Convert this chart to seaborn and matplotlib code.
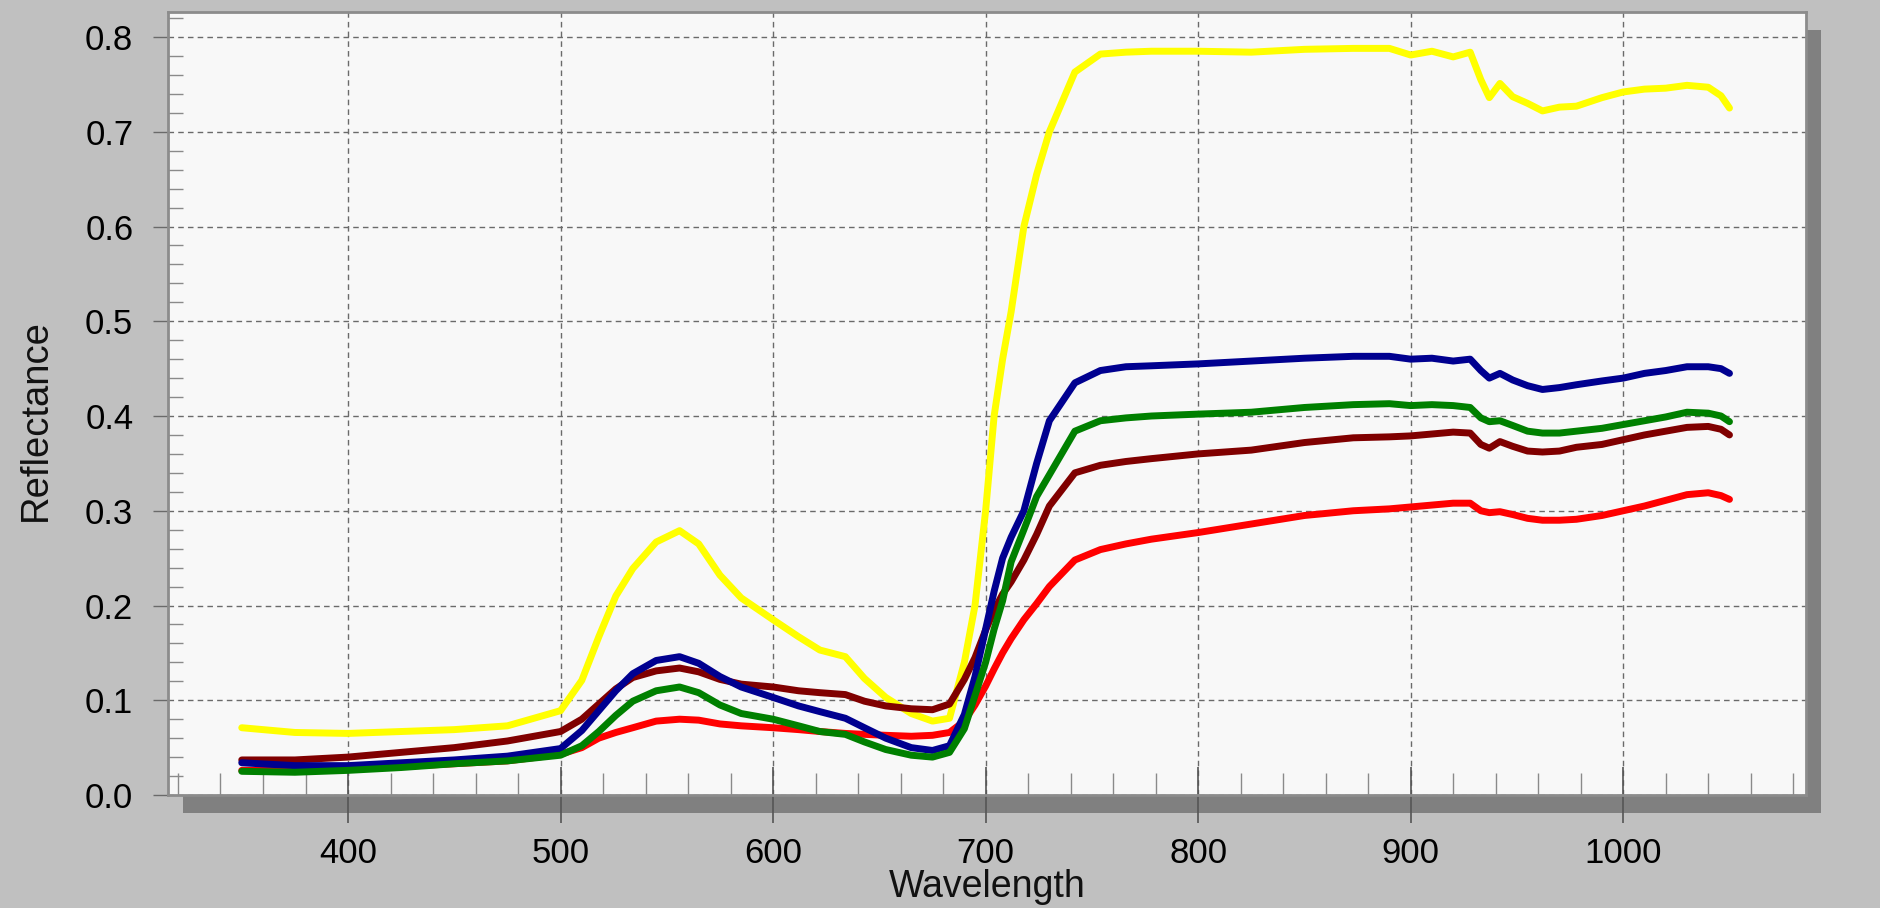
import numpy as np
import pandas as pd
import matplotlib
matplotlib.use("Agg")
import matplotlib.pyplot as plt
import seaborn as sns
from matplotlib.patches import Rectangle
from matplotlib.ticker import MultipleLocator, FormatStrFormatter

# ---------------- data ----------------
wavelength = [350, 375, 400, 425, 450, 475, 500, 510, 518, 526, 534, 545, 556, 565,
              575, 585, 600, 612, 622, 634, 643, 653, 665, 675, 683, 690, 695, 700,
              704, 708, 712, 718, 724, 730, 742, 754, 766, 778, 800, 825, 850, 873,
              890, 900, 910, 920, 928, 933, 937, 942, 948, 955, 962, 970, 978, 990,
              1000, 1010, 1020, 1030, 1040, 1046, 1050]

yellow = [0.071, 0.066, 0.065, 0.067, 0.069, 0.073, 0.089, 0.121, 0.167, 0.210, 0.239,
          0.267, 0.279, 0.265, 0.232, 0.208, 0.185, 0.167, 0.153, 0.146, 0.123, 0.103,
          0.086, 0.078, 0.081, 0.140, 0.200, 0.300, 0.400, 0.460, 0.510, 0.600, 0.655,
          0.700, 0.763, 0.782, 0.784, 0.785, 0.785, 0.784, 0.787, 0.788, 0.788, 0.781,
          0.785, 0.779, 0.784, 0.755, 0.736, 0.751, 0.737, 0.730, 0.722, 0.726, 0.727,
          0.736, 0.742, 0.745, 0.746, 0.749, 0.747, 0.738, 0.725]

blue = [0.034, 0.031, 0.031, 0.034, 0.037, 0.041, 0.049, 0.068, 0.089, 0.110, 0.128,
        0.142, 0.146, 0.139, 0.125, 0.114, 0.103, 0.094, 0.088, 0.081, 0.071, 0.060,
        0.050, 0.047, 0.052, 0.085, 0.125, 0.175, 0.215, 0.250, 0.272, 0.300, 0.350,
        0.395, 0.435, 0.448, 0.452, 0.453, 0.455, 0.458, 0.461, 0.463, 0.463, 0.460,
        0.461, 0.458, 0.460, 0.448, 0.440, 0.445, 0.438, 0.432, 0.428, 0.430, 0.433,
        0.437, 0.440, 0.445, 0.448, 0.452, 0.452, 0.450, 0.445]

green = [0.025, 0.024, 0.026, 0.029, 0.033, 0.036, 0.042, 0.052, 0.067, 0.084, 0.099,
         0.110, 0.114, 0.108, 0.095, 0.086, 0.080, 0.073, 0.067, 0.064, 0.056, 0.048,
         0.042, 0.040, 0.045, 0.070, 0.105, 0.140, 0.175, 0.205, 0.246, 0.280, 0.315,
         0.338, 0.384, 0.395, 0.398, 0.400, 0.402, 0.404, 0.409, 0.412, 0.413, 0.411,
         0.412, 0.411, 0.409, 0.398, 0.394, 0.395, 0.390, 0.384, 0.382, 0.382, 0.384,
         0.387, 0.391, 0.395, 0.399, 0.404, 0.403, 0.400, 0.394]

maroon = [0.037, 0.037, 0.040, 0.045, 0.050, 0.057, 0.067, 0.080, 0.096, 0.112, 0.124,
          0.131, 0.134, 0.130, 0.122, 0.117, 0.114, 0.110, 0.108, 0.106, 0.099, 0.094,
          0.091, 0.090, 0.096, 0.122, 0.145, 0.174, 0.195, 0.212, 0.225, 0.248, 0.275,
          0.305, 0.340, 0.348, 0.352, 0.355, 0.360, 0.364, 0.372, 0.377, 0.378, 0.379,
          0.381, 0.383, 0.382, 0.370, 0.366, 0.373, 0.368, 0.363, 0.362, 0.363, 0.367,
          0.370, 0.375, 0.380, 0.384, 0.388, 0.389, 0.386, 0.380]

red = [0.026, 0.026, 0.028, 0.030, 0.033, 0.036, 0.043, 0.050, 0.060, 0.066, 0.071,
       0.078, 0.080, 0.079, 0.075, 0.073, 0.071, 0.069, 0.067, 0.065, 0.064, 0.063,
       0.062, 0.063, 0.066, 0.078, 0.095, 0.115, 0.133, 0.150, 0.165, 0.185, 0.202,
       0.220, 0.248, 0.259, 0.265, 0.270, 0.277, 0.286, 0.295, 0.300, 0.302, 0.304,
       0.306, 0.308, 0.308, 0.300, 0.298, 0.299, 0.296, 0.292, 0.290, 0.290, 0.291,
       0.295, 0.300, 0.305, 0.311, 0.317, 0.319, 0.316, 0.312]

series_names = ["Sample 1", "Sample 2", "Sample 3", "Sample 4", "Sample 5"]
series_values = [yellow, red, maroon, blue, green]
series_colors = ["#ffff00", "#ff0000", "#800000", "#000090", "#008000"]

x_major = [400, 500, 600, 700, 800, 900, 1000]
y_major = [0.0, 0.1, 0.2, 0.3, 0.4, 0.5, 0.6, 0.7, 0.8]

df = pd.concat(
    [pd.DataFrame({"Wavelength": wavelength, "Reflectance": v, "Sample": n})
     for n, v in zip(series_names, series_values)],
    ignore_index=True,
)

# ---------------- style ----------------
sns.set_style("white")
plt.rcParams["font.family"] = ["Liberation Sans", "DejaVu Sans"]

W, H = 1881, 908
L, R, T, B = 168, 1806, 12, 795

fig = plt.figure(figsize=(W / 100, H / 100), dpi=100, facecolor="#c0c0c0")
ax = fig.add_axes([L / W, 1 - B / H, (R - L) / W, (B - T) / H])
ax.set_facecolor("#f8f8f8")

shadow = Rectangle(((L + 15) / W, 1 - (B + 18) / H), (R - L) / W, (B - T) / H,
                   transform=fig.transFigure, facecolor="#808080",
                   edgecolor="none", zorder=-1)
fig.add_artist(shadow)

sns.lineplot(data=df, x="Wavelength", y="Reflectance", hue="Sample",
             hue_order=series_names, palette=dict(zip(series_names, series_colors)),
             legend=False, linewidth=5, estimator=None, ax=ax,
             solid_capstyle="round", solid_joinstyle="round")

ax.set_xlim(315.3, 1086)
ax.set_ylim(0, 0.8264)

ax.set_xticks(x_major)
ax.set_yticks(y_major)
ax.xaxis.set_minor_locator(MultipleLocator(20))
ax.yaxis.set_minor_locator(MultipleLocator(0.02))
ax.yaxis.set_major_formatter(FormatStrFormatter("%.1f"))

ax.set_axisbelow(True)
ax.grid(True, which="major", color="#6a6a6a", linewidth=1.0,
        linestyle=(0, (4, 3)))

ax.tick_params(which="both", bottom=True, left=True, top=False, right=False)
ax.tick_params(axis="x", which="major", direction="inout", length=40, width=1.2,
               color="#555555", labelsize=25, pad=10, labelcolor="black")
ax.tick_params(axis="x", which="minor", direction="in", length=16, width=1.0,
               color="#8a8a8a")
ax.tick_params(axis="y", which="major", direction="out", length=11, width=1.0,
               color="#6a6a6a", labelsize=25, pad=14, labelcolor="black")
ax.tick_params(axis="y", which="minor", direction="in", length=11, width=1.0,
               color="#8a8a8a")

for side in ["top", "left", "right", "bottom"]:
    ax.spines[side].set_color("#8c8c8c")
    ax.spines[side].set_linewidth(2)

ax.set_xlabel("Wavelength", fontsize=27, color="#111111")
ax.set_ylabel("Reflectance", fontsize=27.5, color="#111111")
ax.xaxis.label.set_va("baseline")
ax.xaxis.set_label_coords(0.5, (B - 897) / (B - T))
ax.yaxis.label.set_va("center")
ax.yaxis.set_label_coords((36 - L) / (R - L), (B - 420) / (B - T))

fig.savefig("out.png", dpi=100, facecolor=fig.get_facecolor())
